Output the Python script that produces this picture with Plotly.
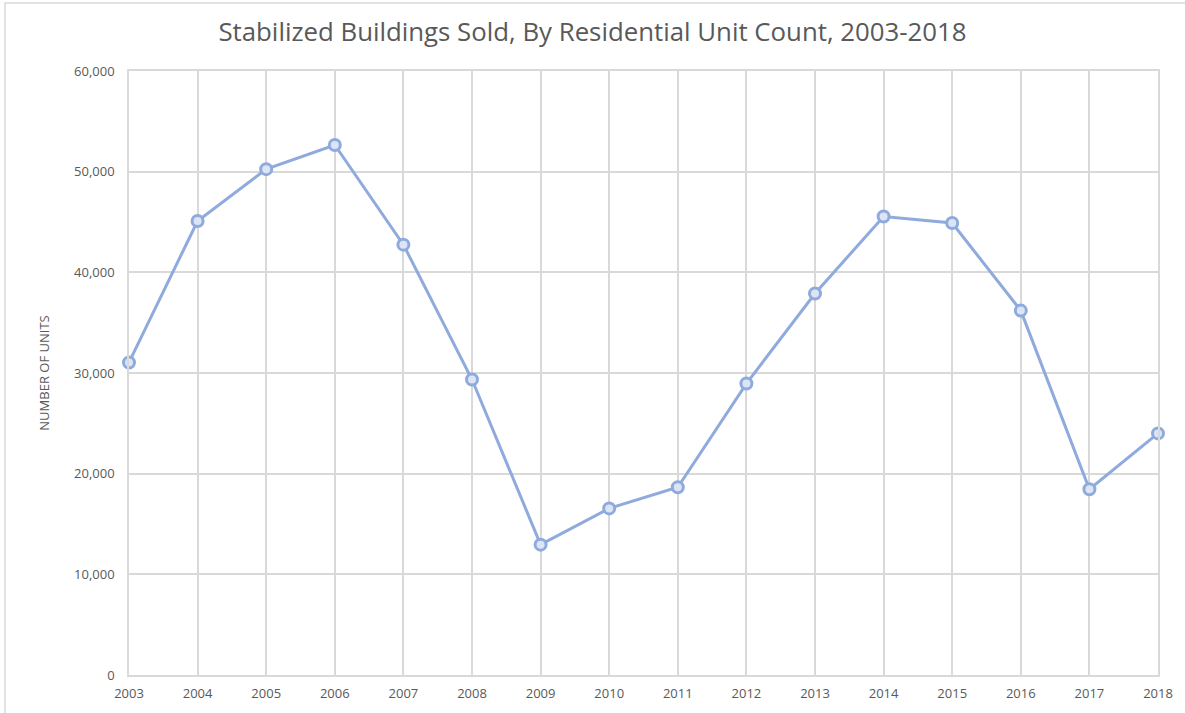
import plotly.graph_objects as go

years = [str(y) for y in range(2003, 2019)]
units = [31050, 45100, 50250, 52650, 42750, 29350, 12950, 16550, 18650,
         28950, 37900, 45550, 44900, 36200, 18450, 24000]
y_ticks = [0, 10000, 20000, 30000, 40000, 50000, 60000]
y_tick_labels = ["0", "10,000", "20,000", "30,000", "40,000", "50,000", "60,000"]

W, H = 1185, 713
L, R, T, B = 129, 1158, 71, 675

fig = go.Figure()
fig.add_trace(go.Scatter(
    x=list(range(len(years))), y=units, mode="lines+markers",
    line=dict(color="#8FAADC", width=3),
    marker=dict(symbol="circle", size=11, color="#DCE5F5",
                line=dict(color="#8FAADC", width=3)),
    hoverinfo="x+y", showlegend=False, cliponaxis=False,
))

grid = "#D9D9D9"
fig.update_layout(
    width=W, height=H,
    margin=dict(l=L, r=W - R, t=T, b=H - B),
    paper_bgcolor="white", plot_bgcolor="white",
    font=dict(family="Open Sans, Liberation Sans, sans-serif", color="#595959"),
    title=dict(text="Stabilized Buildings Sold, By Residential Unit Count, 2003-2018",
               x=0.5, xanchor="center", y=1 - 32 / H, yanchor="middle",
               font=dict(size=25.8, color="#595959")),
    xaxis=dict(
        range=[0, len(years) - 1], tickmode="array",
        tickvals=list(range(len(years))), ticktext=years,
        showgrid=True, gridcolor=grid, gridwidth=1.5,
        showline=True, linecolor=grid, linewidth=1.5, mirror=True,
        zeroline=False, ticks="", ticklabelstandoff=6,
        tickfont=dict(size=13, color="#595959"),
    ),
    yaxis=dict(
        range=[0, 60000], tickmode="array", tickvals=y_ticks, ticktext=y_tick_labels,
        showgrid=True, gridcolor=grid, gridwidth=1.5,
        showline=True, linecolor=grid, linewidth=1.5, mirror=True,
        zeroline=False, ticks="", ticklabelstandoff=10,
        tickfont=dict(size=13, color="#595959"),
        title=dict(text="NUMBER OF UNITS", font=dict(size=13, color="#595959"), standoff=22),
    ),
)

pw, ph = R - L, B - T
fig.add_shape(type="rect", xref="paper", yref="paper",
              x0=(5 - L) / pw, x1=(1200 - L) / pw,
              y0=(B - 730) / ph, y1=(B - 3) / ph,
              line=dict(color="#D9D9D9", width=1.5), fillcolor="rgba(0,0,0,0)",
              layer="below")

fig.write_html("out.html", config={"displayModeBar": False},
               post_script="document.body.style.margin='0';document.body.style.overflow='hidden';")
